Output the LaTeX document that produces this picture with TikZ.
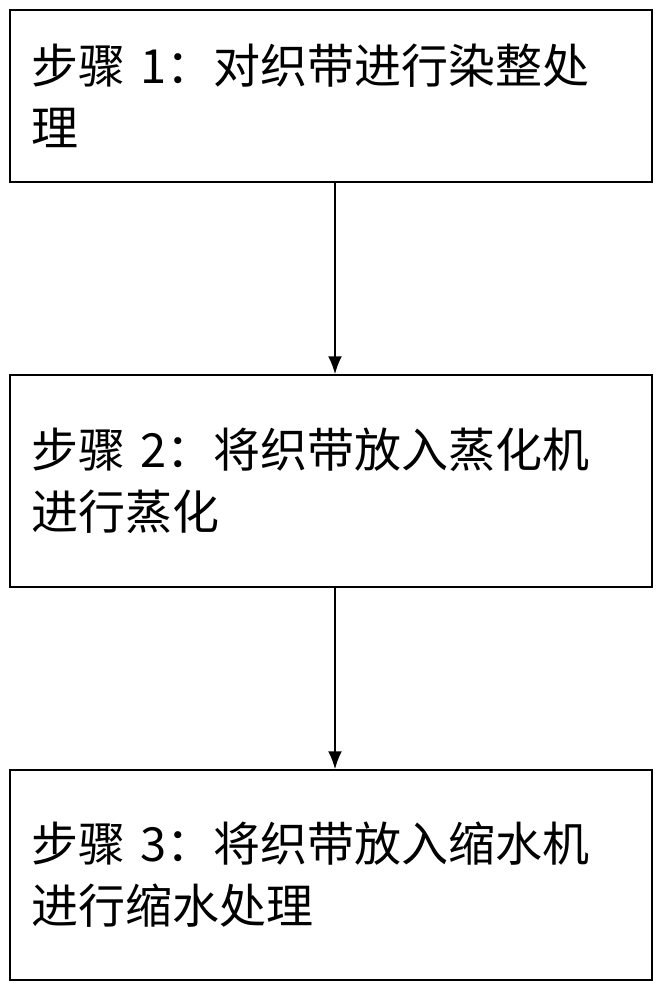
\documentclass[tikz,border=0pt]{standalone}
\usepackage{fontspec}
\setmainfont{Noto Sans CJK SC}
\usetikzlibrary{positioning,arrows.meta}
\begin{document}
\begin{tikzpicture}[x=1pt,y=-1pt]
\tikzstyle{every node}=[draw,line width=1.5pt,minimum width=642pt,align=left,text width=600pt,inner xsep=21pt,font=\fontsize{47}{62}\selectfont]
\useasboundingbox (0,0) rectangle (662,990);
\node[minimum height=172pt](s1) at (331,96) {步骤 1：对织带进行染整处\\理};
\node[minimum height=212pt](s2) at (331,481) {步骤 2：将织带放入蒸化机\\进行蒸化\\[28pt]};
\node[minimum height=210pt](s3) at (331,875) {步骤 3：将织带放入缩水机\\进行缩水处理\\[28pt]};
\draw[-{Latex[length=18pt,width=14pt]},line width=2pt] (s1.south -| 335,0) -- (s2.north -| 335,0);
\draw[-{Latex[length=18pt,width=14pt]},line width=2pt] (s2.south -| 335,0) -- (s3.north -| 335,0);
\end{tikzpicture}
\end{document}
